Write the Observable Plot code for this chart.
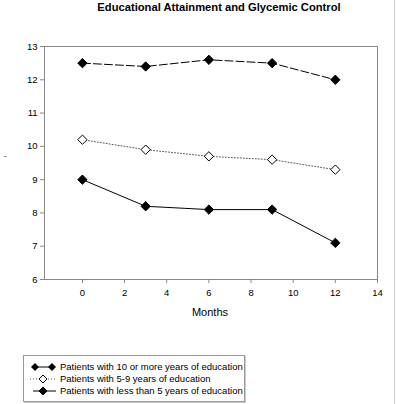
<!DOCTYPE html>
<html><head><meta charset="utf-8">
<script src="https://cdn.jsdelivr.net/npm/d3@7"></script>
<script src="https://cdn.jsdelivr.net/npm/@observablehq/plot@0.6"></script>
<style>
body{margin:0;background:#fff;font-family:"Liberation Sans",Arial,sans-serif;}
#wrap{position:relative;width:396px;height:404px;overflow:hidden;background:#fff;}
#title{position:absolute;top:1px;left:0;width:438px;text-align:center;font-weight:bold;font-size:11.2px;color:#000;}
#chart{position:absolute;top:20px;left:0;}
#border{position:absolute;top:0;left:394px;width:1px;height:404px;background:#d0d0d0;}
#xlab{position:absolute;left:160px;width:100px;top:306px;text-align:center;font-size:11px;color:#000;}
#legend{position:absolute;left:23px;top:355px;width:220px;height:45px;border:1px solid #999;box-shadow:1px 1px 0 #ccc;}
.row{position:absolute;left:0;height:12px;font-size:9.5px;line-height:12px;white-space:nowrap;}
.row svg{position:absolute;left:3px;top:0;}
.row span{position:absolute;left:36px;top:0;}
#ylab{position:absolute;left:4px;top:151px;font-size:8px;color:#000;}
</style></head>
<body><div id="wrap">
<div id="title">Educational Attainment and Glycemic Control</div>
<div id="chart"></div>
<div id="ylab">-</div>
<div id="xlab">Months</div>
<div id="border"></div>
<div id="legend"></div>
</div>
<script>
const months = [0, 3, 6, 9, 12];
const seriesNames = [
  "Patients with 10 or more years of education",
  "Patients with 5-9 years of education",
  "Patients with less than 5 years of education"
];
const high = [12.5, 12.4, 12.6, 12.5, 12.0];
const mid = [10.2, 9.9, 9.7, 9.6, 9.3];
const low = [9.0, 8.2, 8.1, 8.1, 7.1];
const xTicks = [0, 2, 4, 6, 8, 10, 12, 14];
const yTicks = [6, 7, 8, 9, 10, 11, 12, 13];

const styles = [
  {stroke: "#000", dash: "8,3", fill: "#000", width: 1},
  {stroke: "#555", dash: "1,2", fill: "#fff", width: 1},
  {stroke: "#000", dash: null, fill: "#000", width: 1}
];
const values = [high, mid, low];
const data = values.map((vals, s) => months.map((m, i) => ({month: m, value: vals[i], s})));

const marks = [
  Plot.frame({stroke: "#888"}),
  Plot.axisY({ticks: yTicks, tickFormat: d => String(d), tickSize: 4, tickPadding: 3, stroke: "#888", color: "#000", fontSize: 9.5, label: null}),
  Plot.axisX({ticks: xTicks, tickFormat: d => String(d), tickSize: 4, tickPadding: 6, stroke: "#888", color: "#000", fontSize: 9.5, label: null})
];
data.forEach((d, s) => {
  const st = styles[s];
  marks.push(Plot.line(d, {x: "month", y: "value", stroke: st.stroke, strokeWidth: st.width, strokeDasharray: st.dash}));
  marks.push(Plot.dot(d, {x: "month", y: "value", symbol: "diamond2", r: 4.2, fill: st.fill, stroke: "#000", strokeWidth: 1}));
});

const chart = Plot.plot({
  width: 396,
  height: 330,
  marginTop: 26,
  marginBottom: 71,
  marginLeft: 44,
  marginRight: 19,
  style: {fontFamily: "Liberation Sans, Arial, sans-serif", fontSize: "9.5px", background: "transparent"},
  x: {domain: [-1.8, 14]},
  y: {domain: [6, 13]},
  marks
});
document.getElementById("chart").appendChild(chart);

// legend
const legend = document.getElementById("legend");
const tops = [5, 17, 29];
seriesNames.forEach((name, s) => {
  const st = styles[s];
  const row = document.createElement("div");
  row.className = "row";
  row.style.top = tops[s] + "px";
  row.style.width = "220px";
  let sw;
  if (s === 0) {
    sw = `<svg width="32" height="12"><line x1="8" x2="25" y1="6" y2="6" stroke="#000"/>
      <path d="M8,2L12,6L8,10L4,6Z" fill="#000"/><path d="M25,2L29,6L25,10L21,6Z" fill="#000"/></svg>`;
  } else {
    sw = `<svg width="32" height="12"><line x1="${s===1?3:6}" x2="29" y1="6" y2="6" stroke="${st.stroke}" ${st.dash ? `stroke-dasharray="${st.dash}"` : ""}/>
      <path d="M16,2L20,6L16,10L12,6Z" fill="${st.fill}" stroke="#000"/></svg>`;
  }
  row.innerHTML = sw + `<span>${name}</span>`;
  legend.appendChild(row);
});
</script>
</body></html>
